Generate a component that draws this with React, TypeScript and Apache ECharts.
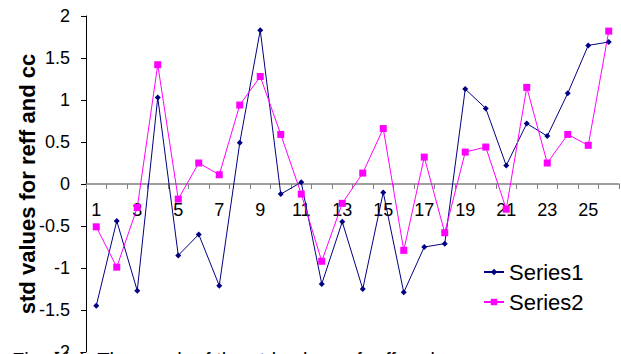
import React, { useEffect, useRef } from "react";
import * as echarts from "echarts";

// Category positions along the x axis
const categories: string[] = Array.from({ length: 26 }, (_, i) => String(i + 1));

// Standardised values for reff (Series1) and cc (Series2)
const series1: number[] = [
  -1.45, -0.44, -1.27, 1.03, -0.85, -0.6, -1.21, 0.49, 1.83, -0.12, 0.02, -1.19, -0.45,
  -1.25, -0.1, -1.29, -0.75, -0.71, 1.13, 0.9, 0.22, 0.72, 0.57, 1.08, 1.65, 1.69,
];
const series2: number[] = [
  -0.51, -0.99, -0.28, 1.42, -0.18, 0.25, 0.11, 0.94, 1.28, 0.59, -0.12, -0.92, -0.23,
  0.13, 0.66, -0.79, 0.32, -0.58, 0.38, 0.44, -0.3, 1.15, 0.25, 0.59, 0.46, 1.82,
];

const seriesNames: string[] = ["Series1", "Series2"];
const yAxisTitle = "std values for reff and cc";
const caption = "Fig. 1(a). The graph of the std values of reff and cc";

const FONT = "'Liberation Sans', Arial, Helvetica, sans-serif";

// Plot area geometry; the category axis sits on the value 0 line (middle of -2..2)
const GRID_TOP = 16;
const GRID_BOTTOM = 2;
const CHART_H = 354;
const PLOT_H = CHART_H - GRID_TOP - GRID_BOTTOM;

export default function App() {
  const ref = useRef<HTMLDivElement>(null);

  useEffect(() => {
    if (!ref.current) return;
    const chart = echarts.init(ref.current, undefined, { renderer: "svg" });
    chart.setOption({
      animation: false,
      backgroundColor: "#ffffff",
      textStyle: { fontFamily: FONT },
      grid: {
        left: 86,
        right: 2,
        top: GRID_TOP,
        bottom: GRID_BOTTOM,
        containLabel: false,
        outerBoundsMode: "none",
      },
      legend: {
        orient: "vertical",
        left: 483,
        top: 261,
        padding: 0,
        itemWidth: 20,
        itemHeight: 8,
        itemGap: 8,
        textStyle: { fontSize: 22, color: "#000000", fontFamily: FONT },
        data: seriesNames,
      },
      xAxis: {
        type: "category",
        data: categories,
        boundaryGap: true,
        position: "bottom",
        offset: -PLOT_H / 2,
        axisLine: { onZero: false, lineStyle: { color: "#808080", width: 1.5 } },
        axisTick: { show: true, interval: 0, length: 5, lineStyle: { color: "#808080" } },
        axisLabel: {
          interval: 1,
          margin: 17,
          fontSize: 18,
          color: "#000000",
          fontFamily: FONT,
        },
        splitLine: { show: false },
      },
      yAxis: {
        type: "value",
        min: -2,
        max: 2,
        interval: 0.5,
        name: yAxisTitle,
        nameLocation: "middle",
        nameRotate: 90,
        nameGap: 48,
        nameMoveOverlap: false,
        nameTextStyle: { fontSize: 22, fontWeight: "bold", color: "#000000", fontFamily: FONT },
        axisLine: { show: true, lineStyle: { color: "#000000", width: 1 } },
        axisTick: { show: true, length: 5, lineStyle: { color: "#000000" } },
        axisLabel: { margin: 16, fontSize: 18, color: "#000000", fontFamily: FONT },
        splitLine: { show: false },
      },
      series: [
        {
          name: seriesNames[0],
          type: "line",
          data: series1,
          symbol: "diamond",
          symbolSize: 6,
          showAllSymbol: true,
          itemStyle: { color: "#000080" },
          lineStyle: { color: "#000080", width: 1 },
        },
        {
          name: seriesNames[1],
          type: "line",
          data: series2,
          symbol: "rect",
          symbolSize: 7,
          showAllSymbol: true,
          itemStyle: { color: "#ff00ff" },
          lineStyle: { color: "#ff00ff", width: 1 },
        },
      ],
      graphic: [
        {
          type: "text",
          x: 12,
          y: 350,
          z: -1,
          style: {
            text: caption,
            font: `20px ${FONT}`,
            fill: "#000000",
            verticalAlign: "top",
          },
        },
      ],
    });
    return () => chart.dispose();
  }, []);

  return (
    <div
      ref={ref}
      style={{ position: "fixed", left: 0, top: 0, width: 621, height: CHART_H }}
    />
  );
}
